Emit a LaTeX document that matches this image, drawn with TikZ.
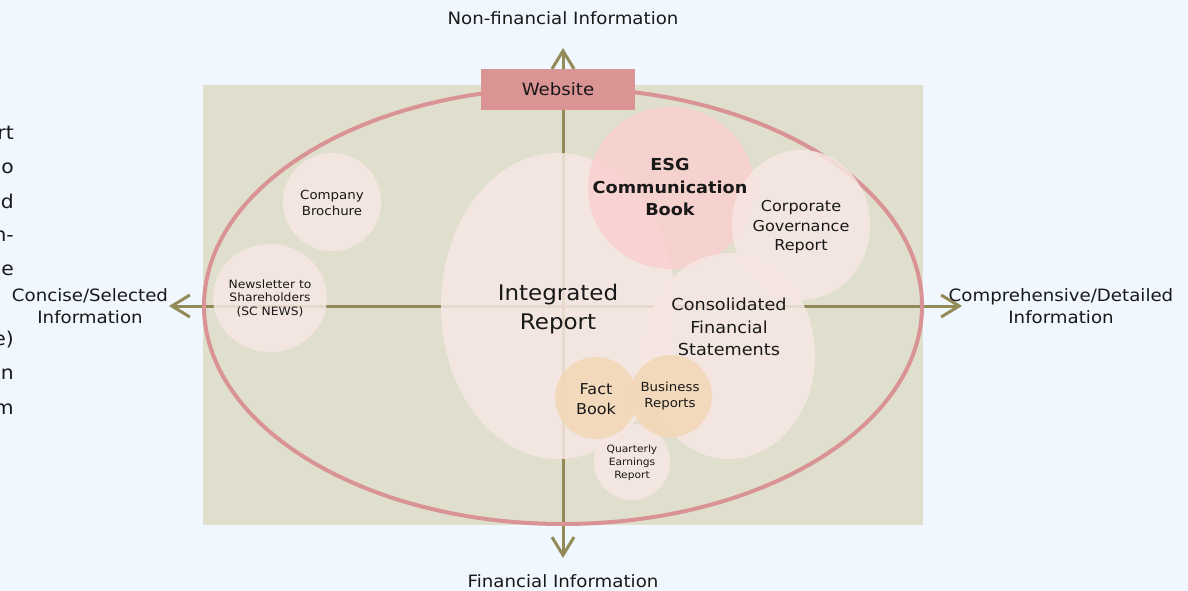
\documentclass[tikz,border=0pt]{standalone}
\usepackage{fontspec}
\setmainfont{DejaVu Sans}[FakeStretch=1.07]
\usetikzlibrary{arrows.meta,shapes.geometric}
\definecolor{bgblue}{HTML}{F0F7FE}
\definecolor{panel}{HTML}{E0DFCE}
\definecolor{axisolive}{HTML}{928A57}
\definecolor{ringred}{HTML}{D99394}
\definecolor{webred}{HTML}{DB9494}
\definecolor{bubble}{HTML}{F7E7E3}
\definecolor{esgpink}{HTML}{FAD0CF}
\definecolor{tan}{HTML}{F2D8B8}
\newcommand\myfs[2]{\fontsize{#1}{#2}\selectfont}
\tikzset{
  axisline/.style={draw=axisolive, line width=3pt, {Straight Barb[length=18pt,width=22pt]}-{Straight Barb[length=18pt,width=22pt]}},
  bub/.style={ellipse, inner sep=0pt, fill=bubble, fill opacity=0.85, draw=none},
  esgbub/.style={ellipse, inner sep=0pt, fill=esgpink, fill opacity=0.85, draw=none},
  tanbub/.style={ellipse, inner sep=0pt, fill=tan, fill opacity=0.92, draw=none},
  lbl/.style={align=center, inner sep=0pt, text=black!90},
  axlbl/.style={lbl, font=\myfs{17}{22}},
  frag/.style={anchor=east, inner sep=0pt, font=\myfs{19}{23}, text=black!90}
}
\begin{document}
\begin{tikzpicture}[x=1pt,y=-1pt]
\useasboundingbox (0,0) rectangle (1188,591);
\fill[bgblue] (0,0) rectangle (1188,591);
\fill[panel] (203,85) rectangle (923,525);
% axes
\coordinate (L) at (169,306);
\coordinate (R) at (962,306);
\coordinate (T) at (563,48);
\coordinate (B) at (563,558);
\draw[axisline] (L) -- (R);
\draw[axisline] (T) -- (B);
% ring
\node[ellipse, draw=ringred, line width=4pt, minimum width=718, minimum height=436, inner sep=0pt] (ring) at (563,306) {};
% bubbles
\node[bub, minimum width=234, minimum height=306] (ir) at (558,306) {};
\node[esgbub, minimum width=166, minimum height=162] (esg) at (671,188) {};
\node[bub, minimum width=138, minimum height=150] (cg) at (801,225) {};
\node[bub, minimum width=172, minimum height=206] (cfs) at (729,356) {};
\node[bub, minimum width=76, minimum height=76] (qe) at (632,462) {};
\node[tanbub, minimum width=82, minimum height=82] (fb) at (596,398) {};
\node[tanbub, minimum width=82, minimum height=82] (br) at (671,396) {};
\node[bub, minimum width=98, minimum height=98] (cb) at (332,202) {};
\node[bub, minimum width=114, minimum height=108] (nl) at (270,298) {};
% website
\node[fill=webred, minimum width=154, minimum height=41, inner sep=0pt, font=\myfs{17}{19}, text=black!90] (web) at (558,89.5) {Website};
% labels
\node[lbl, font=\myfs{21.5}{29}] (irt) at (558,309) {Integrated\\Report};
\node[lbl, font=\bfseries\myfs{16.5}{22.5}] (esgt) at (670,187) {ESG\\Communication\\Book};
\node[lbl, font=\myfs{15}{19.5}] (cgt) at (801,227) {Corporate\\Governance\\Report};
\node[lbl, font=\myfs{16.5}{22.5}] (cfst) at (729,327) {Consolidated\\Financial\\Statements};
\node[lbl, font=\myfs{15}{19.5}] (fbt) at (596,399) {Fact\\Book};
\node[lbl, font=\myfs{12.5}{16}] (brt) at (670,396) {Business\\Reports};
\node[lbl, font=\myfs{12.5}{16}] (cbt) at (332,203) {Company\\Brochure};
\node[lbl, font=\myfs{11.5}{13.5}] (nlt) at (270,298) {Newsletter to\\Shareholders\\(SC NEWS)};
\node[lbl, font=\myfs{10}{13}] (qet) at (632,463) {Quarterly\\Earnings\\Report};
% axis labels
\node[axlbl] (nf) at (563,18) {Non-financial Information};
\node[axlbl] (fi) at (563,581) {Financial Information};
\node[axlbl] (cs) at (90,306) {Concise/Selected\\Information};
\node[axlbl] (cd) at (1061,306) {Comprehensive/Detailed\\Information};
% cut-off text at left edge (cut off in the reference as well)
\node[frag] (f1) at (14,133) {rt};
\node[frag] (f2) at (14,168) {o};
\node[frag] (f3) at (14,201) {d};
\node[frag] (f4) at (14,236) {n-};
\node[frag] (f5) at (14,270) {e};
\node[frag] (f6) at (14,340) {e)};
\node[frag] (f7) at (14,374) {n};
\node[frag] (f8) at (14,409) {m};
\end{tikzpicture}
\end{document}
